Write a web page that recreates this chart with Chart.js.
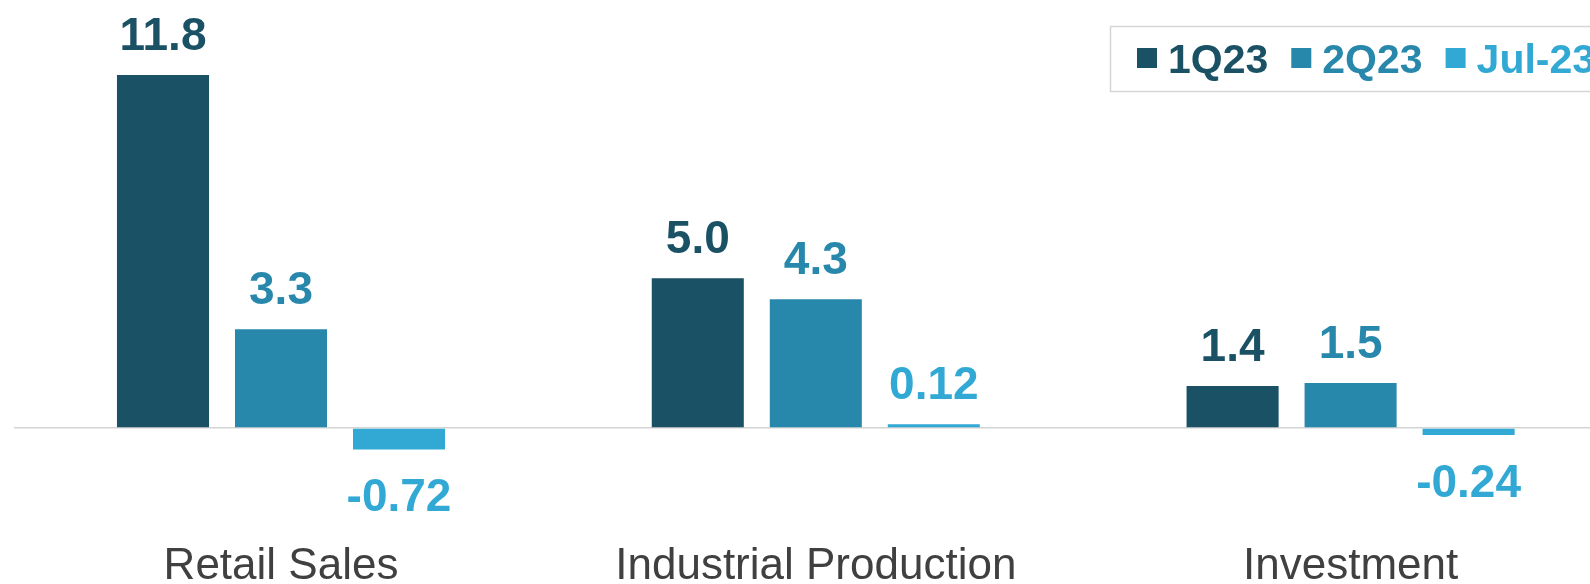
<!DOCTYPE html>
<html>
<head>
<meta charset="utf-8">
<script src="https://cdn.jsdelivr.net/npm/chart.js@4"></script>
<style>
  html, body { margin: 0; padding: 0; background: #fff; overflow: hidden; }
  #wrap { position: relative; width: 1618px; height: 584px; }
</style>
</head>
<body>
<div id="wrap"><canvas id="growthChart"></canvas></div>
<script>
const categories = ['Retail Sales', 'Industrial Production', 'Investment']
const seriesNames = ['1Q23', '2Q23', 'Jul-23']
const q1Values = [11.8, 5.0, 1.4]
const q2Values = [3.3, 4.3, 1.5]
const julValues = [-0.72, 0.12, -0.24]
const labelDecimals = [1, 1, 2]
const colors = ['#1a5165', '#2788ab', '#32a9d4']

const fontFamily = '"Liberation Sans", Arial, sans-serif'

// etiquetas de valor encima / debajo de cada barra
const valueLabels = {
    id: 'valueLabels',
    afterDatasetsDraw(chart) {
        const ctx = chart.ctx
        ctx.save()
        ctx.font = 'bold 46px ' + fontFamily
        ctx.textAlign = 'center'
        ctx.textBaseline = 'alphabetic'
        chart.data.datasets.forEach((ds, i) => {
            const meta = chart.getDatasetMeta(i)
            ctx.fillStyle = colors[i]
            meta.data.forEach((bar, j) => {
                const v = ds.data[j]
                const txt = v.toFixed(labelDecimals[i])
                if (v >= 0) {
                    ctx.fillText(txt, bar.x, bar.y - 25)
                } else {
                    ctx.fillText(txt, bar.x, bar.y + 62)
                }
            })
        })
        ctx.restore()
    }
}

// leyenda con recuadro, arriba a la derecha
const boxLegend = {
    id: 'boxLegend',
    afterDraw(chart) {
        const ctx = chart.ctx
        ctx.save()
        ctx.strokeStyle = '#d6d6d6'
        ctx.lineWidth = 1.5
        ctx.strokeRect(1110.5, 26.5, 600, 65)
        ctx.font = 'bold 41px ' + fontFamily
        ctx.textBaseline = 'alphabetic'
        ctx.textAlign = 'left'
        let x = 1137
        chart.data.datasets.forEach((ds, i) => {
            ctx.fillStyle = colors[i]
            ctx.fillRect(x, 48, 20, 20)
            ctx.fillText(ds.label, x + 31, 73)
            x += 31 + ctx.measureText(ds.label).width + 23
        })
        ctx.restore()
    }
}

const ctx = document.getElementById('growthChart').getContext('2d')

new Chart(ctx, {
    type: 'bar',
    data: {
        labels: categories,
        datasets: [
            { label: seriesNames[0], data: q1Values, backgroundColor: colors[0] },
            { label: seriesNames[1], data: q2Values, backgroundColor: colors[1] },
            { label: seriesNames[2], data: julValues, backgroundColor: colors[2] }
        ]
    },
    options: {
        responsive: true,
        maintainAspectRatio: false,
        animation: false,
        layout: { padding: { left: 13.6, right: 0, top: 39, bottom: 0 } },
        datasets: {
            bar: { categoryPercentage: 0.662, barPercentage: 0.78 }
        },
        plugins: {
            legend: { display: false },
            tooltip: { enabled: false }
        },
        scales: {
            x: {
                grid: { display: false },
                border: { display: false },
                afterFit: (scale) => { scale.height = 66.3 },
                ticks: {
                    color: '#404040',
                    padding: 15,
                    font: { family: fontFamily, size: 44 }
                }
            },
            y: {
                min: -3,
                max: 13,
                border: { display: false },
                ticks: { display: false, stepSize: 1 },
                grid: {
                    drawTicks: false,
                    lineWidth: 1.5,
                    color: (c) => c.tick && c.tick.value === 0 ? '#d4d4d4' : 'rgba(0,0,0,0)'
                }
            }
        }
    },
    plugins: [valueLabels, boxLegend]
})
</script>
</body>
</html>
